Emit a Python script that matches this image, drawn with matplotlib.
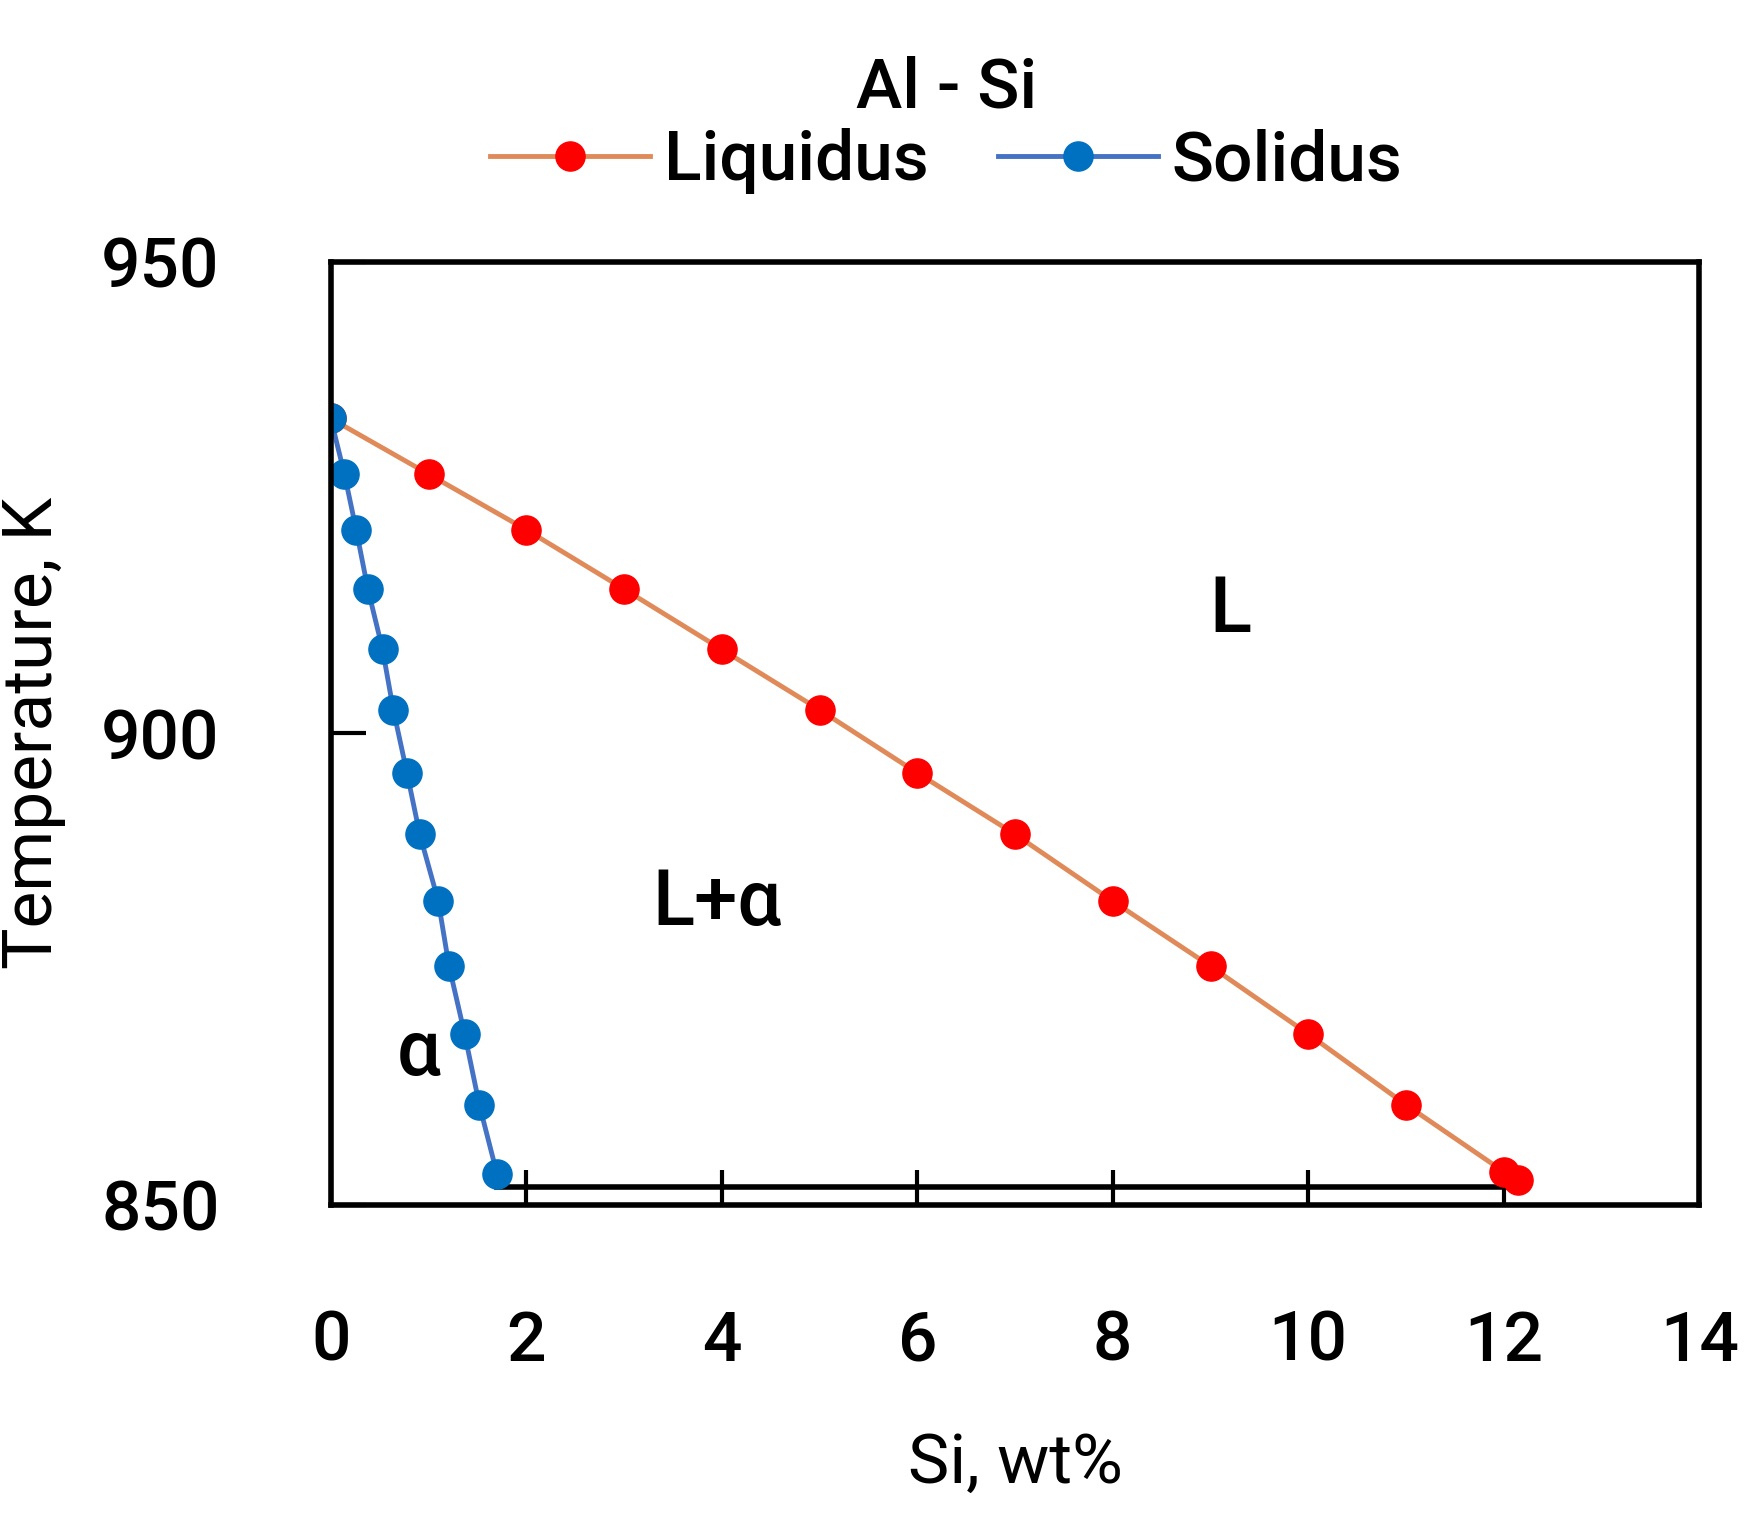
import matplotlib
matplotlib.use("Agg")
import matplotlib.pyplot as plt

liq_x = [0, 1, 2, 3, 4, 5, 6, 7, 8, 9, 10, 11, 12, 12.15]
liq_T = [933.4, 927.5, 921.6, 915.3, 908.9, 902.5, 895.8, 889.3, 882.2, 875.3, 868.1, 860.6, 853.5, 852.6]
sol_x = [0, 0.14, 0.26, 0.38, 0.53, 0.64, 0.78, 0.91, 1.10, 1.21, 1.37, 1.52, 1.70]
sol_T = [933.4, 927.5, 921.6, 915.3, 908.9, 902.5, 895.8, 889.3, 882.2, 875.3, 868.1, 860.6, 853.3]
eut_x = [1.70, 12.15]
eut_T = [851.9, 851.9]

plt.rcParams['font.family'] = ['Roboto', 'DejaVu Sans']
plt.rcParams['font.weight'] = 'medium'
fig = plt.figure(figsize=(17.5, 15.23), dpi=100)
ax = fig.add_axes([0.189, 0.209, 0.782, 0.619])
ax.plot(eut_x, eut_T, color='black', lw=4, zorder=1)
ax.plot(liq_x, liq_T, color='#e08a5a', lw=3.5, marker='o', ms=21, mfc='#ff0000', mec='#ff0000', label='Liquidus', zorder=2)
ax.plot(sol_x, sol_T, color='#4472c4', lw=3.5, marker='o', ms=21, mfc='#0070c0', mec='#0070c0', label='Solidus', zorder=2)
ax.set_xlim(0, 14)
ax.set_ylim(850, 950)
ax.set_xticks(range(0, 15, 2))
ax.set_yticks([850, 900, 950])
ax.tick_params(direction='in', length=25, width=3, labelsize=50)
ax.tick_params(axis='x', pad=75)
ax.tick_params(axis='y', pad=80)
for s in ax.spines.values():
    s.set_linewidth(4)
ax.set_xlabel('Si, wt%', fontsize=50, labelpad=40)
ax.set_ylabel('Temperature, K', fontsize=50, labelpad=25)
ax.text(9.2, 913, 'L', fontsize=56, ha='center', va='center')
ax.text(3.95, 882, 'L+α', fontsize=56, ha='center', va='center')
ax.text(0.9, 866, 'α', fontsize=56, ha='center', va='center')
leg = ax.legend(loc='lower center', bbox_to_anchor=(0.45, 1.02), ncol=2, frameon=False,
                fontsize=50, title='Al - Si', title_fontsize=50, handlelength=2.3,
                columnspacing=1.0, handletextpad=0.2, borderaxespad=0.3, labelspacing=0.1)
fig.savefig('out.png', dpi=100)
